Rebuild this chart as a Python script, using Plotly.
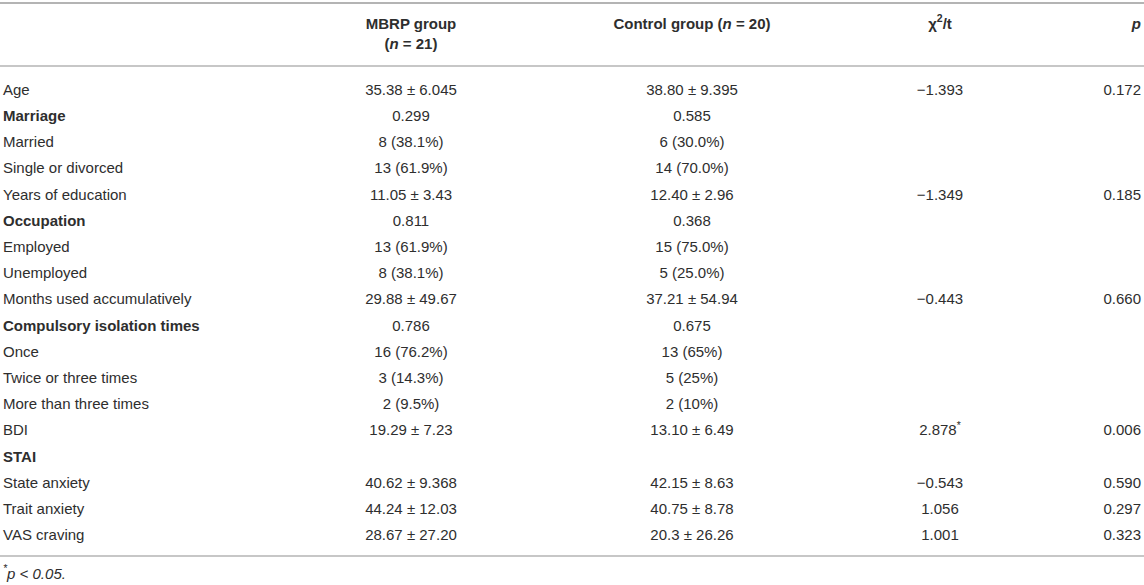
import plotly.graph_objects as go

labels = ["Age", "<b>Marriage</b>", "Married", "Single or divorced", "Years of education",
          "<b>Occupation</b>", "Employed", "Unemployed", "Months used accumulatively",
          "<b>Compulsory isolation times</b>", "Once", "Twice or three times",
          "More than three times", "BDI", "<b>STAI</b>", "State anxiety", "Trait anxiety",
          "VAS craving"]
mbrp = ["35.38 ± 6.045", "0.299", "8 (38.1%)", "13 (61.9%)", "11.05 ± 3.43", "0.811",
        "13 (61.9%)", "8 (38.1%)", "29.88 ± 49.67", "0.786", "16 (76.2%)", "3 (14.3%)",
        "2 (9.5%)", "19.29 ± 7.23", "", "40.62 ± 9.368", "44.24 ± 12.03", "28.67 ± 27.20"]
control = ["38.80 ± 9.395", "0.585", "6 (30.0%)", "14 (70.0%)", "12.40 ± 2.96", "0.368",
           "15 (75.0%)", "5 (25.0%)", "37.21 ± 54.94", "0.675", "13 (65%)", "5 (25%)",
           "2 (10%)", "13.10 ± 6.49", "", "42.15 ± 8.63", "40.75 ± 8.78", "20.3 ± 26.26"]
chi_t = ["−1.393", "", "", "", "−1.349", "", "", "", "−0.443", "", "", "", "",
         "2.878<sup>*</sup>", "", "−0.543", "1.056", "1.001"]
p_vals = ["0.172", "", "", "", "0.185", "", "", "", "0.660", "", "", "", "",
          "0.006", "", "0.590", "0.297", "0.323"]

headers = ["<b>MBRP group</b><br><b>(<i>n</i> = 21)</b>", "<b>Control group (<i>n</i> = 20)</b>",
           "<b>χ<sup>2</sup>/t</b>", "<b><i>p</i></b>"]
footnote = "<i><sup>*</sup>p &lt; 0.05.</i>"

font = dict(family="Liberation Sans, Arial, sans-serif", size=15, color="#2e2e2e")
line_color = "#b4b4b4"

W, H = 1144, 585
row_px = 26.2
first_px = 91


def py(px):
    # pixel row -> row-index units
    return (px - first_px) / row_px


x_label, x_mbrp, x_ctrl, x_chi, x_p = 3, 411, 692, 940, 1141

fig = go.Figure()

# rules
for ypx, w in [(3, 2.2), (66, 1.6), (556, 1.6)]:
    fig.add_trace(go.Scatter(x=[0, W], y=[py(ypx), py(ypx)], mode="lines",
                             line=dict(color=line_color, width=w), hoverinfo="skip",
                             cliponaxis=False))


def column(values, x, pos):
    idx = [i for i, v in enumerate(values) if v]
    fig.add_trace(go.Scatter(x=[x] * len(idx), y=idx, text=[values[i] for i in idx],
                             mode="text", textposition=pos, textfont=font,
                             cliponaxis=False, hoverinfo="skip"))


column(labels, x_label, "middle right")
column(mbrp, x_mbrp, "middle center")
column(control, x_ctrl, "middle center")
column(chi_t, x_chi, "middle center")
column(p_vals, x_p, "middle left")

# header
fig.add_trace(go.Scatter(x=[x_mbrp], y=[py(35)], text=[headers[0]], mode="text",
                         textposition="middle center", textfont=font, cliponaxis=False))
fig.add_trace(go.Scatter(x=[x_ctrl, x_chi], y=[py(25), py(25)], text=headers[1:3], mode="text",
                         textposition="middle center", textfont=font, cliponaxis=False))
fig.add_trace(go.Scatter(x=[x_p], y=[py(25)], text=[headers[3]], mode="text",
                         textposition="middle left", textfont=font, cliponaxis=False))

# footnote
fig.add_trace(go.Scatter(x=[x_label], y=[py(575)], text=[footnote], mode="text",
                         textposition="middle right", textfont=font, cliponaxis=False))

fig.update_layout(width=W, height=H, margin=dict(l=0, r=0, t=0, b=0),
                  paper_bgcolor="white", plot_bgcolor="white", showlegend=False,
                  hovermode=False)
fig.update_xaxes(range=[0, W], visible=False, fixedrange=True)
fig.update_yaxes(range=[py(H), py(0)], visible=False, fixedrange=True)

# drop the default 8px body margin so the figure sits at the page corner
fig.write_html("out.html", config={"displayModeBar": False},
               post_script="document.body.style.margin='0';")
